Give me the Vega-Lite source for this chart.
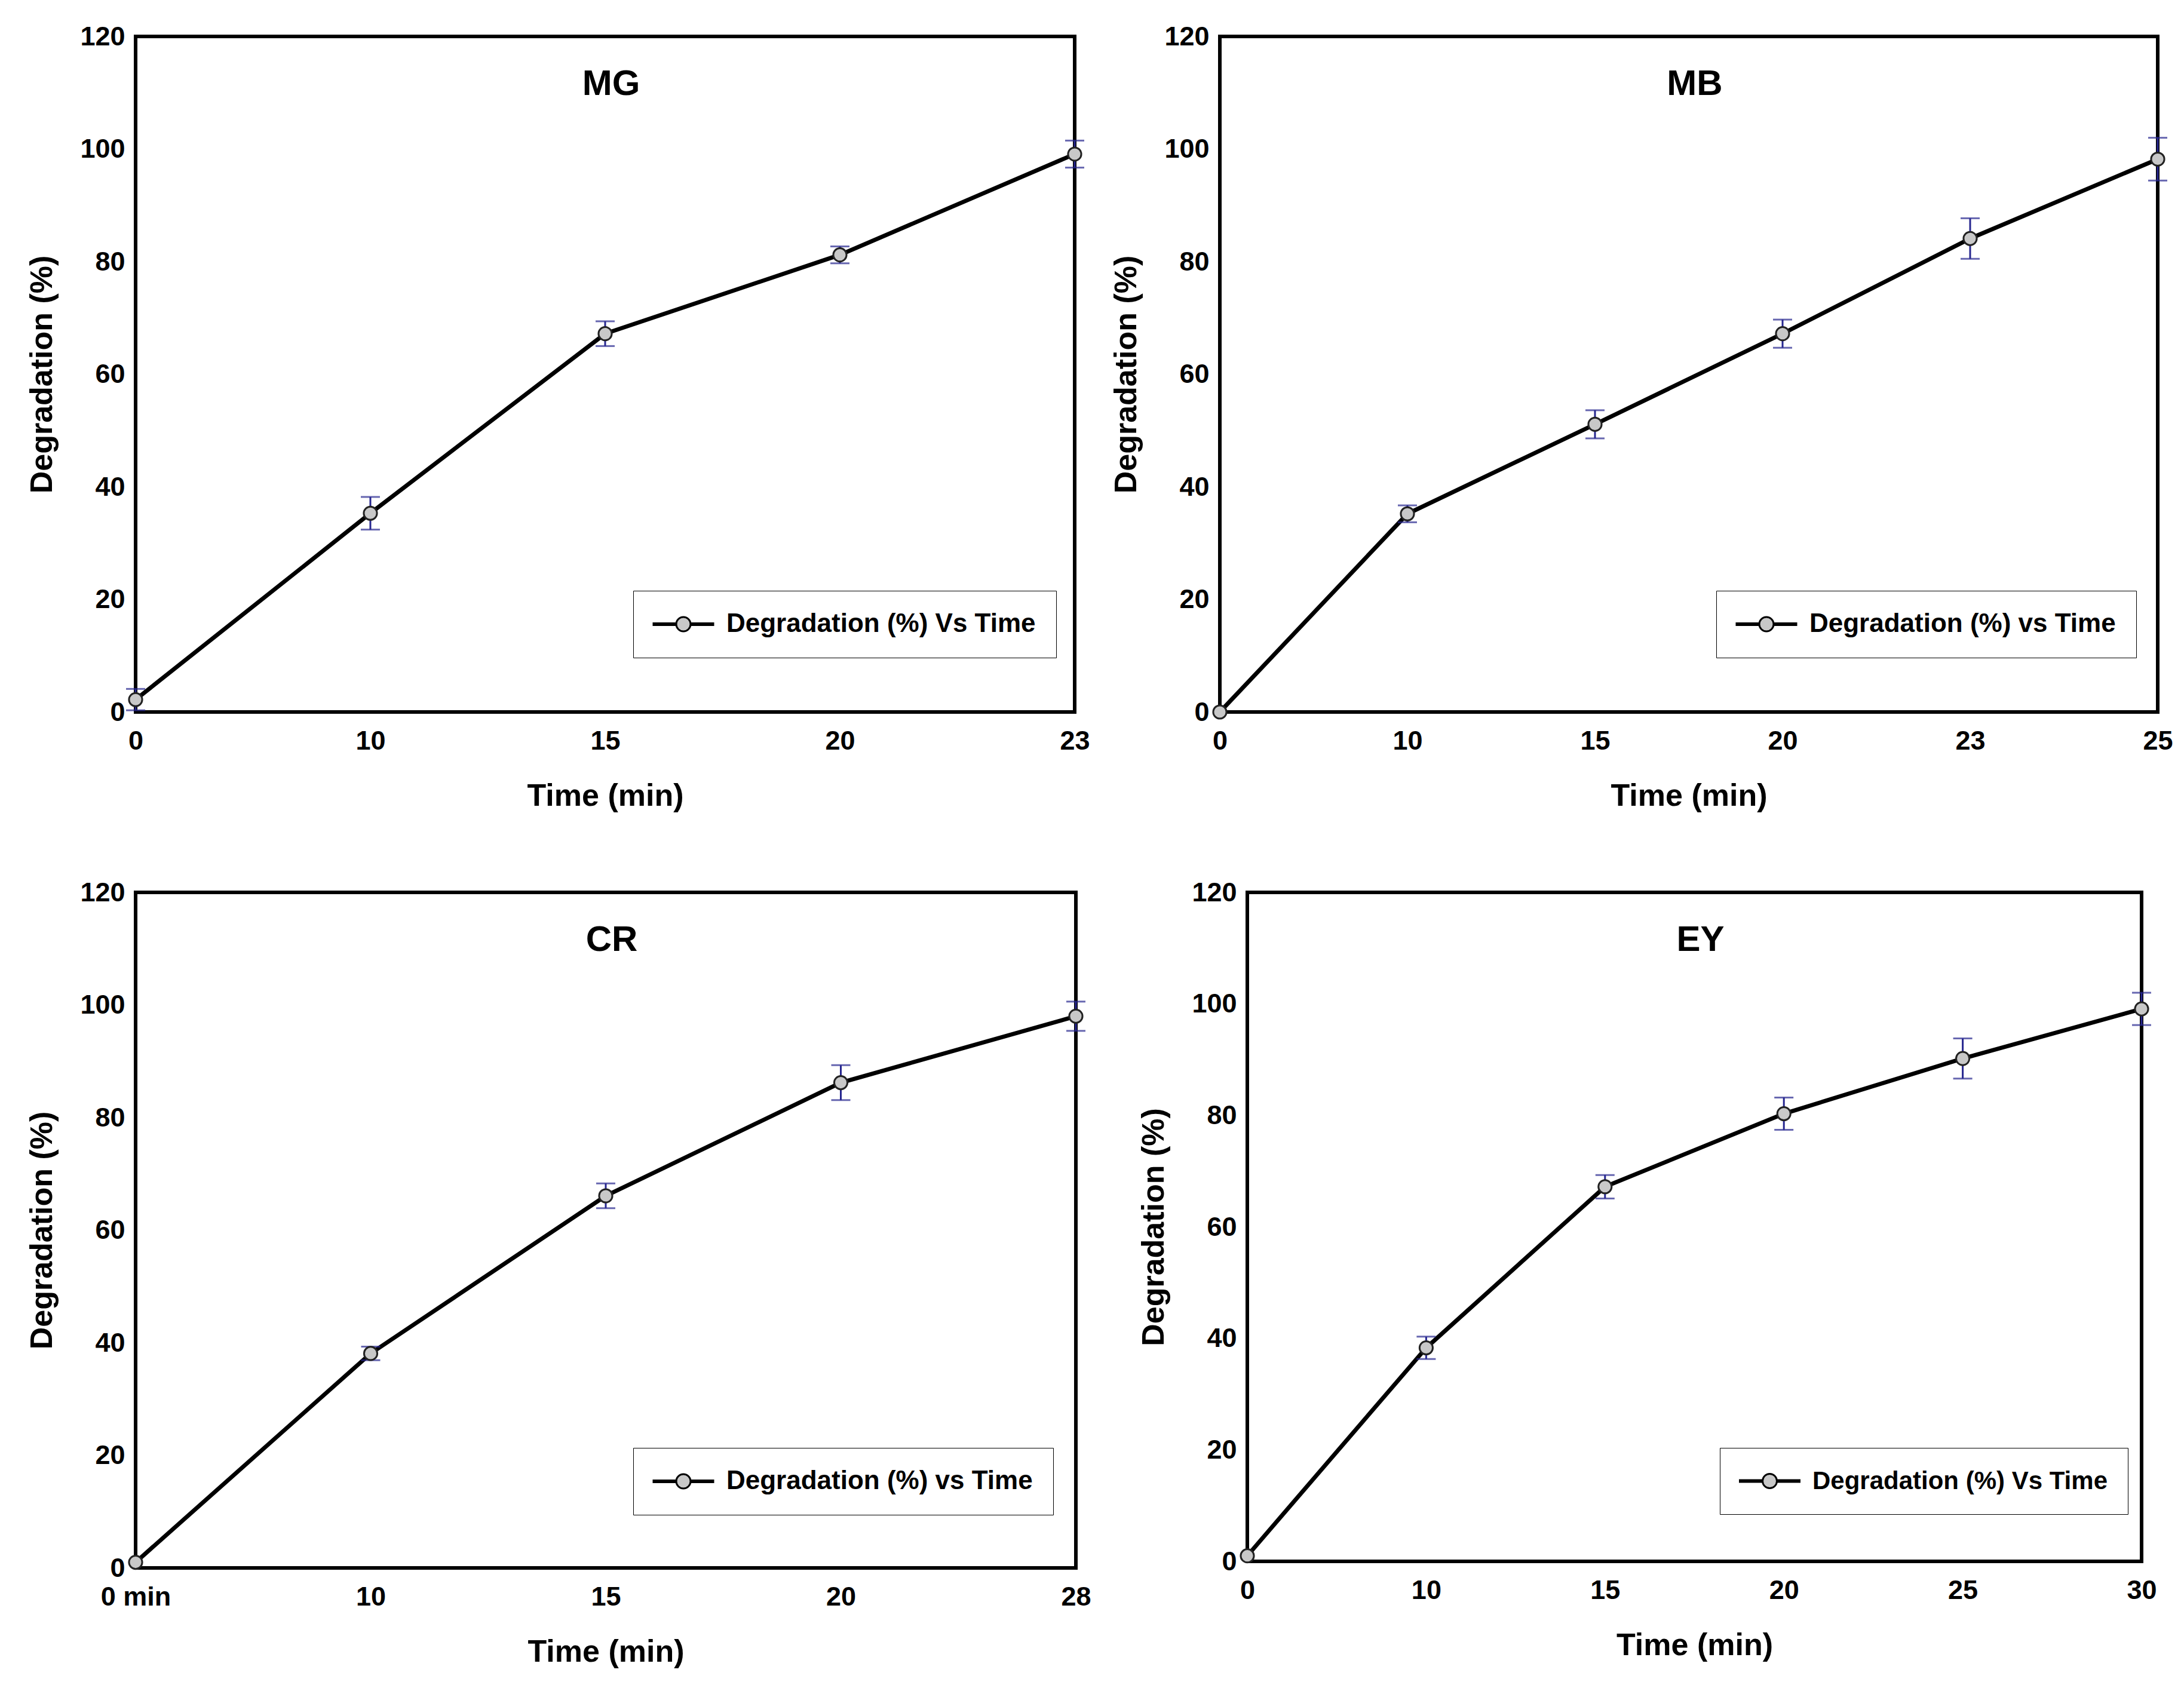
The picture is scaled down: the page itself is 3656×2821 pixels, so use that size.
{
  "$schema": "https://vega.github.io/schema/vega-lite/v6.json",
  "background": "white",
  "padding": {"left": 41, "top": 36, "right": 5, "bottom": 5},
  "config": {
    "font": "Liberation Sans",
    "view": {"stroke": "black", "strokeWidth": 6},
    "axis": {"domain": false, "ticks": false, "grid": false, "labelFont": "Liberation Sans", "labelFontWeight": "bold", "labelFontSize": 45, "labelColor": "black", "titleFont": "Liberation Sans", "titleFontSize": 52, "titleFontWeight": "bold", "titleColor": "black"},
    "axisY": {"labelPadding": 18, "titlePadding": 36},
    "axisX": {"labelPadding": 26, "titlePadding": 44, "labelAngle": 0},
    "title": {"font": "Liberation Sans", "fontSize": 60, "fontWeight": "bold", "color": "black", "anchor": "middle", "frame": "group"},
    "legend": {"labelFont": "Liberation Sans", "labelFontSize": 44, "labelFontWeight": "bold", "labelColor": "black", "labelLimit": 0, "padding": 34, "strokeColor": "black", "fillColor": "white", "symbolType": "M-2.5,-0.075L-0.6,-0.075L-0.6,0.075L-2.5,0.075ZM0.6,-0.075L2.5,-0.075L2.5,0.075L0.6,0.075ZM-0.6,0A0.6,0.6,0,1,0,0.6,0A0.6,0.6,0,1,0,-0.6,0Z", "symbolSize": 1600, "symbolOffset": 28, "labelOffset": 50, "symbolStrokeWidth": 3, "symbolStrokeColor": "black"}
  },
  "resolve": {"scale": {"fill": "independent"}, "legend": {"fill": "independent"}},
  "spacing": 108,
  "vconcat": [
    {
      "spacing": 28,
      "resolve": {"scale": {"fill": "independent"}, "legend": {"fill": "independent"}},
      "hconcat": [
        {
          "width": 1572, "height": 1131,
          "title": {"text": "MG", "offset": -180, "baseline": "alphabetic", "dx": 10},
          "data": {"values": [
            {"t": 0, "d": 2.2, "e": 1.9, "s": "Degradation (%) Vs Time"},
            {"t": 10, "d": 35.3, "e": 2.9, "s": "Degradation (%) Vs Time"},
            {"t": 15, "d": 67.2, "e": 2.2, "s": "Degradation (%) Vs Time"},
            {"t": 20, "d": 81.2, "e": 1.5, "s": "Degradation (%) Vs Time"},
            {"t": 23, "d": 99.1, "e": 2.4, "s": "Degradation (%) Vs Time"}
          ]},
          "encoding": {
            "x": {"field": "t", "type": "ordinal", "scale": {"type": "point", "padding": 0}, "axis": {"title": "Time (min)"}},
            "y": {"field": "d", "type": "quantitative", "scale": {"domain": [0, 120], "nice": false}, "axis": {"values": [0, 20, 40, 60, 80, 100, 120], "title": "Degradation (%)"}}
          },
          "layer": [
            {"mark": {"type": "line", "color": "black", "strokeWidth": 7}},
            {"transform": [{"filter": "datum.e > 0"}], "mark": {"type": "errorbar", "color": "#26268f", "thickness": 3, "ticks": {"size": 32, "thickness": 3, "color": "#26268f"}}, "encoding": {"yError": {"field": "e"}}},
            {"mark": {"type": "point", "filled": true, "size": 490, "stroke": "#222222", "strokeWidth": 3, "opacity": 1}, "encoding": {"fill": {"field": "s", "type": "nominal", "scale": {"range": ["#c8c8c8"]}, "legend": {"title": null, "orient": "none", "legendX": 833, "legendY": 928}}}}
          ]
        },
        {
          "width": 1570, "height": 1131,
          "title": {"text": "MB", "offset": -180, "baseline": "alphabetic", "dx": 10},
          "data": {"values": [
            {"t": 0, "d": 0, "e": 0, "s": "Degradation (%) vs Time"},
            {"t": 10, "d": 35.2, "e": 1.5, "s": "Degradation (%) vs Time"},
            {"t": 15, "d": 51.1, "e": 2.5, "s": "Degradation (%) vs Time"},
            {"t": 20, "d": 67.2, "e": 2.5, "s": "Degradation (%) vs Time"},
            {"t": 23, "d": 84.1, "e": 3.6, "s": "Degradation (%) vs Time"},
            {"t": 25, "d": 98.2, "e": 3.8, "s": "Degradation (%) vs Time"}
          ]},
          "encoding": {
            "x": {"field": "t", "type": "ordinal", "scale": {"type": "point", "padding": 0}, "axis": {"title": "Time (min)"}},
            "y": {"field": "d", "type": "quantitative", "scale": {"domain": [0, 120], "nice": false}, "axis": {"values": [0, 20, 40, 60, 80, 100, 120], "title": "Degradation (%)"}}
          },
          "layer": [
            {"mark": {"type": "line", "color": "black", "strokeWidth": 7}},
            {"transform": [{"filter": "datum.e > 0"}], "mark": {"type": "errorbar", "color": "#26268f", "thickness": 3, "ticks": {"size": 32, "thickness": 3, "color": "#26268f"}}, "encoding": {"yError": {"field": "e"}}},
            {"mark": {"type": "point", "filled": true, "size": 490, "stroke": "#222222", "strokeWidth": 3, "opacity": 1}, "encoding": {"fill": {"field": "s", "type": "nominal", "scale": {"range": ["#c8c8c8"]}, "legend": {"title": null, "orient": "none", "legendX": 831, "legendY": 928}}}}
          ]
        }
      ]
    },
    {
      "spacing": 72,
      "resolve": {"scale": {"fill": "independent"}, "legend": {"fill": "independent"}},
      "hconcat": [
        {
          "width": 1574, "height": 1131,
          "title": {"text": "CR", "offset": -180, "baseline": "alphabetic", "dx": 10},
          "data": {"values": [
            {"t": 0, "d": 1.0, "e": 0, "s": "Degradation (%) vs Time"},
            {"t": 10, "d": 38.1, "e": 1.2, "s": "Degradation (%) vs Time"},
            {"t": 15, "d": 66.1, "e": 2.2, "s": "Degradation (%) vs Time"},
            {"t": 20, "d": 86.2, "e": 3.1, "s": "Degradation (%) vs Time"},
            {"t": 28, "d": 98.0, "e": 2.6, "s": "Degradation (%) vs Time"}
          ]},
          "encoding": {
            "x": {"field": "t", "type": "ordinal", "scale": {"type": "point", "padding": 0}, "axis": {"title": "Time (min)", "labelExpr": "datum.value == 0 ? '0 min' : datum.label"}},
            "y": {"field": "d", "type": "quantitative", "scale": {"domain": [0, 120], "nice": false}, "axis": {"values": [0, 20, 40, 60, 80, 100, 120], "title": "Degradation (%)"}}
          },
          "layer": [
            {"mark": {"type": "line", "color": "black", "strokeWidth": 7}},
            {"transform": [{"filter": "datum.e > 0"}], "mark": {"type": "errorbar", "color": "#26268f", "thickness": 3, "ticks": {"size": 32, "thickness": 3, "color": "#26268f"}}, "encoding": {"yError": {"field": "e"}}},
            {"mark": {"type": "point", "filled": true, "size": 490, "stroke": "#222222", "strokeWidth": 3, "opacity": 1}, "encoding": {"fill": {"field": "s", "type": "nominal", "scale": {"range": ["#c8c8c8"]}, "legend": {"title": null, "orient": "none", "legendX": 833, "legendY": 930}}}}
          ]
        },
        {
          "width": 1497, "height": 1120,
          "title": {"text": "EY", "offset": -180, "baseline": "alphabetic", "dx": 10},
          "data": {"values": [
            {"t": 0, "d": 1.0, "e": 0, "s": "Degradation (%) Vs Time"},
            {"t": 10, "d": 38.3, "e": 2.0, "s": "Degradation (%) Vs Time"},
            {"t": 15, "d": 67.2, "e": 2.1, "s": "Degradation (%) Vs Time"},
            {"t": 20, "d": 80.3, "e": 2.9, "s": "Degradation (%) Vs Time"},
            {"t": 25, "d": 90.2, "e": 3.6, "s": "Degradation (%) Vs Time"},
            {"t": 30, "d": 99.1, "e": 2.9, "s": "Degradation (%) Vs Time"}
          ]},
          "encoding": {
            "x": {"field": "t", "type": "ordinal", "scale": {"type": "point", "padding": 0}, "axis": {"title": "Time (min)"}},
            "y": {"field": "d", "type": "quantitative", "scale": {"domain": [0, 120], "nice": false}, "axis": {"values": [0, 20, 40, 60, 80, 100, 120], "title": "Degradation (%)"}}
          },
          "layer": [
            {"mark": {"type": "line", "color": "black", "strokeWidth": 7}},
            {"transform": [{"filter": "datum.e > 0"}], "mark": {"type": "errorbar", "color": "#26268f", "thickness": 3, "ticks": {"size": 32, "thickness": 3, "color": "#26268f"}}, "encoding": {"yError": {"field": "e"}}},
            {"mark": {"type": "point", "filled": true, "size": 490, "stroke": "#222222", "strokeWidth": 3, "opacity": 1}, "encoding": {"fill": {"field": "s", "type": "nominal", "scale": {"range": ["#c8c8c8"]}, "legend": {"title": null, "orient": "none", "legendX": 791, "legendY": 930, "labelFontSize": 42}}}}
          ]
        }
      ]
    }
  ]
}
